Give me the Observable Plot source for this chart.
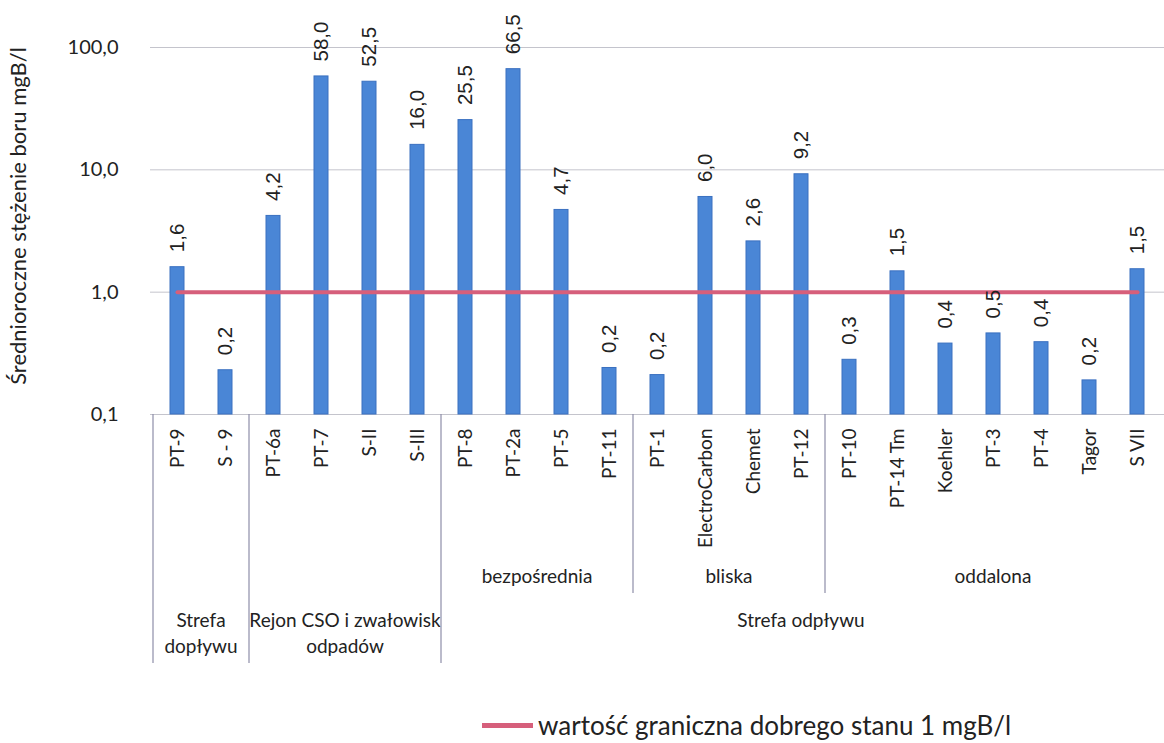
<!DOCTYPE html>
<html>
<head>
<meta charset="utf-8">
<script src="https://cdn.jsdelivr.net/npm/d3@7"></script>
<script src="https://cdn.jsdelivr.net/npm/@observablehq/plot@0.6"></script>
<style>
  html, body { margin: 0; padding: 0; background: #fff; }
  #legend { height: 34px; display: flex; align-items: center; margin-left: 482px;
            font-family: Lato, sans-serif; font-size: 26px; color: #222; }
  #legend .sw { width: 51px; height: 5px; background: #d65f7b; margin-right: 5px; }
</style>
</head>
<body>
<div id="chart"></div>
<div id="legend"><span class="sw"></span><span id="legendText"></span></div>
<script>
const categories = ["PT-9","S - 9","PT-6a","PT-7","S-II","S-III","PT-8","PT-2a","PT-5","PT-11",
  "PT-1","ElectroCarbon","Chemet","PT-12","PT-10","PT-14 Tm","Koehler","PT-3","PT-4","Tagor","S VII"];
const values = [1.6, 0.23, 4.2, 58.0, 52.5, 16.0, 25.5, 66.5, 4.7, 0.24,
  0.21, 6.0, 2.6, 9.2, 0.28, 1.48, 0.38, 0.46, 0.39, 0.19, 1.54];
const threshold = 1;
const yTicks = [0.1, 1, 10, 100];
const yLabel = "Średnioroczne stężenie boru mgB/l";
const legendLabel = "wartość graniczna dobrego stanu 1 mgB/l";
const zones = [
  {lines: ["Strefa", "dopływu"], first: "PT-9", last: "S - 9"},
  {lines: ["Rejon CSO i zwałowisk", "odpadów"], first: "PT-6a", last: "S-III"},
  {lines: ["Strefa odpływu"], first: "PT-8", last: "S VII"}
];
const subZones = [
  {label: "bezpośrednia", first: "PT-8", last: "PT-11"},
  {label: "bliska", first: "PT-1", last: "PT-12"},
  {label: "oddalona", first: "PT-10", last: "S VII"}
];

const fmt = d => d3.format(".1f")(d).replace(".", ",");
const data = categories.map((c, i) => ({c, v: values[i]}));

const chart = Plot.plot({
  width: 1164, height: 708,
  marginLeft: 150, marginRight: 0, marginTop: 47, marginBottom: 294,
  style: {fontFamily: "Lato, sans-serif", background: "white", color: "#222"},
  x: {domain: categories, paddingInner: 0.7, paddingOuter: 0.35, axis: null},
  y: {type: "log", domain: [0.1, 100], axis: null},
  marks: [
    Plot.gridY(yTicks, {stroke: "#c4c4cc", strokeOpacity: 1}),
    Plot.axisY(yTicks, {tickSize: 0, tickPadding: 32, tickFormat: fmt, fontSize: 20, label: null}),
    Plot.axisX({tickSize: 0, tickRotate: -90, tickPadding: 14, fontSize: 19, label: null}),
    Plot.text([yLabel], {frameAnchor: "left", rotate: -90, textAnchor: "middle", dx: -132, dy: -15,
      fontSize: 22, fill: "#222"}),
    Plot.barY(data, {x: "c", y1: 0.1, y2: "v", fill: "#4a86d6", stroke: "#3a70c0", strokeWidth: 1}),
    Plot.lineY(categories, {x: d => d, y: () => threshold, stroke: "#d65f7b", strokeWidth: 4}),
    Plot.text(data, {x: "c", y: "v", text: d => fmt(d.v), rotate: -90, textAnchor: "start", dy: -15,
      fontSize: 20.5, fontFamily: "Liberation Sans, sans-serif", fill: "#222"})
  ]
});
document.getElementById("chart").appendChild(chart);
document.getElementById("legendText").textContent = legendLabel;

// hierarchical category axis drawn through Plot's x scale
const xs = chart.scale("x");
const gap = (xs.step - xs.bandwidth) / 2;
const leftOf = c => xs.apply(c) - gap;
const rightOf = c => xs.apply(c) + xs.bandwidth + gap;
const yBase = 414;
const g = d3.select(chart).append("g").attr("font-family", "Lato, sans-serif").attr("fill", "#222");
zones.forEach(z => {
  g.append("line").attr("x1", leftOf(z.first)).attr("x2", leftOf(z.first))
    .attr("y1", yBase).attr("y2", 663).attr("stroke", "#8e8ea8").attr("stroke-width", 1.2);
  const t = g.append("text").attr("x", (leftOf(z.first) + rightOf(z.last)) / 2)
    .attr("y", 622).attr("text-anchor", "middle").attr("dominant-baseline", "middle").attr("font-size", 19);
  z.lines.forEach((l, i) => t.append("tspan").attr("x", (leftOf(z.first) + rightOf(z.last)) / 2)
    .attr("dy", i === 0 ? 0 : 26).text(l));
});
subZones.forEach((z, i) => {
  if (i > 0) g.append("line").attr("x1", leftOf(z.first)).attr("x2", leftOf(z.first))
    .attr("y1", yBase).attr("y2", 593).attr("stroke", "#8e8ea8").attr("stroke-width", 1.2);
  g.append("text").attr("x", (leftOf(z.first) + rightOf(z.last)) / 2).attr("y", 578)
    .attr("text-anchor", "middle").attr("dominant-baseline", "middle").attr("font-size", 19).text(z.label);
});
</script>
</body>
</html>
